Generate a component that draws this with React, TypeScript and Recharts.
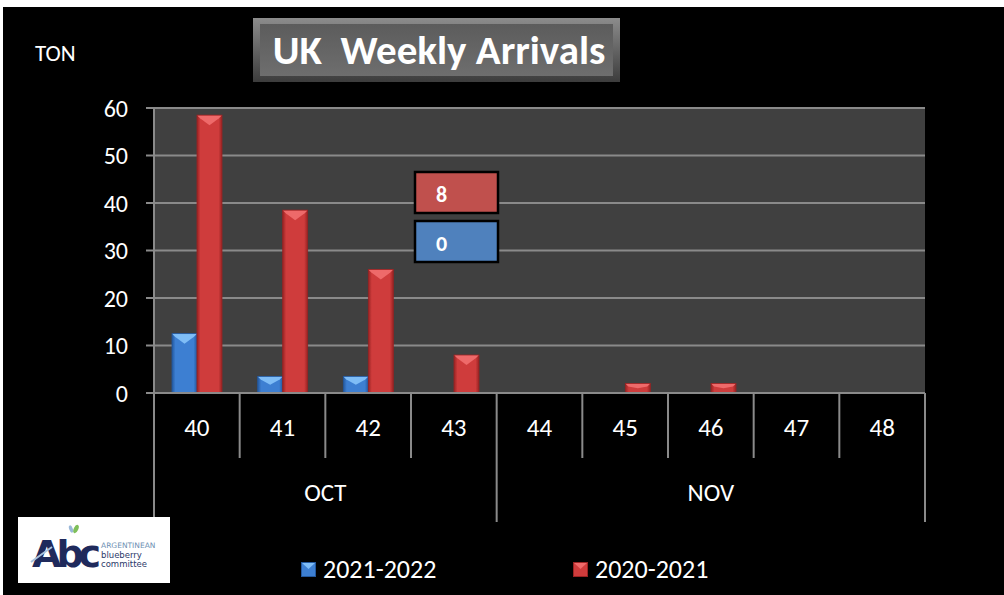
import React from 'react';
import { BarChart, Bar, XAxis, YAxis, CartesianGrid, LabelList } from 'recharts';

const weeks = ['40', '41', '42', '43', '44', '45', '46', '47', '48'];
const months = ['OCT', 'OCT', 'OCT', 'OCT', 'NOV', 'NOV', 'NOV', 'NOV', 'NOV'];
const season2122: (number | null)[] = [12.5, 3.5, 3.5, 0, null, null, null, null, null];
const season2021: (number | null)[] = [58.5, 38.5, 26, 8, 0, 2, 2, 0, 0];
const yTicks = [0, 10, 20, 30, 40, 50, 60];
const seriesNames = ['2021-2022', '2020-2021'];
const titleText = 'UK  Weekly Arrivals';
const unitText = 'TON';
const labelWeekIndex = 3;

const data = weeks.map((w, i) => ({ week: w, month: months[i], a: season2122[i], b: season2021[i] }));

const FONT = "Carlito, Lato, 'Open Sans', sans-serif";
const GRAY = '#8a8a8a';

const palettes = {
  blue: { base: '#3d7fd2', dark: '#23589e', light: '#7fbdf6', box: '#4f81bd' },
  red: { base: '#cf3c3c', dark: '#992323', light: '#ee6a6a', box: '#c0504d' },
};

const makeShape = (key: 'blue' | 'red') => (props: any) => {
  const { x, y, width, height } = props;
  if (!height || height <= 0 || !width) return null;
  const d = Math.min(10, height * 0.5);
  const p = palettes[key];
  return (
    <g>
      <rect x={x} y={y} width={width} height={height} fill={`url(#grad-${key})`} />
      <polygon points={`${x},${y} ${x + width},${y} ${x + width - 3},${y + 3} ${x + width / 2},${y + d} ${x + 3},${y + 3}`} fill={p.light} />
      <rect x={x} y={y} width={width} height={height} fill="none" stroke={p.dark} strokeWidth={0.8} />
    </g>
  );
};

const makeLabel = (key: 'blue' | 'red', boxTopFromBase: number) => (props: any) => {
  const { x, y, width, height, value, index } = props;
  if (index !== labelWeekIndex) return null;
  const base = (y ?? 0) + (height ?? 0);
  const center = key === 'blue' ? x + width : x;
  const left = center - 39;
  const top = base - boxTopFromBase;
  return (
    <g>
      <rect x={left} y={top} width={83} height={41} fill={palettes[key].box} stroke="#000" strokeWidth={2.5} />
      <text x={left + 21} y={top + 22} dominantBaseline="central" fill="#fff" fontWeight={700} fontSize={22} fontFamily={FONT}>
        {value}
      </text>
    </g>
  );
};

const WeekTick = (props: any) => {
  const { x, y, payload } = props;
  const i: number = payload.index;
  const half: number = payload.offset ?? 42.8;
  const left = x - half;
  const right = x + half;
  const isStart = i === 0 || months[i] !== months[i - 1];
  let monthLabel = null;
  if (isStart) {
    let n = 0;
    while (i + n < months.length && months[i + n] === months[i]) n++;
    monthLabel = (
      <text x={left + n * half} y={y + 99} textAnchor="middle" dominantBaseline="central" fill="#fff" fontSize={25} fontFamily={FONT}>
        {months[i]}
      </text>
    );
  }
  return (
    <g>
      <line x1={left} x2={left} y1={y} y2={y + (isStart ? 129 : 65)} stroke={GRAY} strokeWidth={2} />
      {i === weeks.length - 1 && <line x1={right} x2={right} y1={y} y2={y + 129} stroke={GRAY} strokeWidth={2} />}
      <text x={x} y={y + 34} textAnchor="middle" dominantBaseline="central" fill="#fff" fontSize={25} fontFamily={FONT}>
        {payload.value}
      </text>
      {monthLabel}
    </g>
  );
};

const LegendIcon = ({ k }: { k: 'blue' | 'red' }) => {
  const p = palettes[k];
  return (
    <svg width={15} height={15} style={{ display: 'block' }}>
      <rect x={0} y={0} width={15} height={15} fill={p.base} />
      <polygon points="0,0 15,0 7.5,7" fill={p.light} />
      <rect x={0.5} y={0.5} width={14} height={14} fill="none" stroke={p.dark} />
    </svg>
  );
};

export default function App() {
  return (
    <div style={{ position: 'relative', width: 1004, height: 595, background: '#fff', overflow: 'hidden', fontFamily: FONT }}>
      <style>{'body{margin:0;}'}</style>
      <div style={{ position: 'absolute', left: 3, top: 7, width: 1001, height: 588, background: '#000' }} />
      <div style={{ position: 'absolute', left: 0, top: 0 }}>
        <BarChart
          width={1004}
          height={595}
          data={data}
          margin={{ top: 108, right: 79, bottom: 72, left: 94 }}
          barSize={25}
          barGap={0}
          style={{ fontFamily: FONT }}
        >
          <defs>
            {(['blue', 'red'] as const).map((k) => (
              <linearGradient key={k} id={`grad-${k}`} x1="0" y1="0" x2="1" y2="0">
                <stop offset="0%" stopColor={palettes[k].dark} />
                <stop offset="14%" stopColor={palettes[k].base} />
                <stop offset="86%" stopColor={palettes[k].base} />
                <stop offset="100%" stopColor={palettes[k].dark} />
              </linearGradient>
            ))}
          </defs>
          <CartesianGrid vertical={false} fill="#404040" stroke={GRAY} strokeWidth={2} fillOpacity={1} />
          <XAxis
            dataKey="week"
            height={130}
            interval={0}
            tickLine={false}
            tickSize={0}
            tickMargin={0}
            axisLine={{ stroke: GRAY, strokeWidth: 2 }}
            tick={<WeekTick />}
          />
          <YAxis
            width={60}
            domain={[0, 60]}
            ticks={yTicks}
            interval={0}
            tickSize={8}
            tickMargin={18}
            axisLine={{ stroke: GRAY, strokeWidth: 2 }}
            tickLine={{ stroke: GRAY, strokeWidth: 2 }}
            tick={{ fill: '#fff', fontSize: 24, fontFamily: FONT }}
          />
          <Bar dataKey="a" name={seriesNames[0]} isAnimationActive={false} shape={makeShape('blue')}>
            <LabelList dataKey="a" content={makeLabel('blue', 172)} />
          </Bar>
          <Bar dataKey="b" name={seriesNames[1]} isAnimationActive={false} shape={makeShape('red')}>
            <LabelList dataKey="b" content={makeLabel('red', 221)} />
          </Bar>
        </BarChart>
      </div>

      {/* unit */}
      <div style={{ position: 'absolute', left: 35, top: 39, color: '#fff', fontSize: 23, lineHeight: '28px' }}>{unitText}</div>

      {/* title */}
      <svg style={{ position: 'absolute', left: 250, top: 15 }} width={374} height={72}>
        <defs>
          <linearGradient id="tOuter" x1="0" y1="0" x2="0" y2="1">
            <stop offset="0%" stopColor="#8c8c8c" />
            <stop offset="100%" stopColor="#3c3c3c" />
          </linearGradient>
          <linearGradient id="tInner" x1="0" y1="0" x2="0" y2="1">
            <stop offset="0%" stopColor="#5c5c5c" />
            <stop offset="100%" stopColor="#6e6e6e" />
          </linearGradient>
        </defs>
        <rect x={3} y={3} width={367} height={64} fill="url(#tOuter)" />
        <rect x={10} y={9} width={353} height={52} fill="url(#tInner)" />
        <text x={189} y={49} textAnchor="middle" fill="#fff" fontWeight={700} fontSize={41} fontFamily={FONT} style={{ whiteSpace: 'pre' }}>
          {titleText}
        </text>
      </svg>

      {/* logo */}
      <svg style={{ position: 'absolute', left: 18, top: 517 }} width={152} height={66}>
        <rect x={0} y={0} width={152} height={66} fill="#fff" />
        <text x={14} y={50} fill="#1f2a5c" fontWeight={900} fontSize={38} fontFamily="'DejaVu Sans', sans-serif" letterSpacing={-5}>Abc</text>
        <path d="M13 45 Q24 37 34 30" stroke="#a9c3dd" strokeWidth={2} fill="none" />
        <ellipse cx={58} cy={12} rx={2.2} ry={4.5} fill="#7fbf5a" transform="rotate(25 58 12)" />
        <ellipse cx={53} cy={12} rx={1.8} ry={3.8} fill="#9bb8d8" transform="rotate(-20 53 12)" />
        <text x={83} y={31} fill="#6d8fb3" fontSize={7.5} fontFamily="'DejaVu Sans', sans-serif">ARGENTINEAN</text>
        <text x={83} y={41} fill="#2c3a6a" fontSize={8.5} fontFamily="'DejaVu Sans', sans-serif">blueberry</text>
        <text x={83} y={50} fill="#2c3a6a" fontSize={8.5} fontFamily="'DejaVu Sans', sans-serif">committee</text>
      </svg>

      {/* legend */}
      <div style={{ position: 'absolute', left: 301, top: 553, display: 'flex', alignItems: 'center', color: '#fff', fontSize: 26 }}>
        <LegendIcon k="blue" />
        <span style={{ marginLeft: 7 }}>{seriesNames[0]}</span>
      </div>
      <div style={{ position: 'absolute', left: 573, top: 553, display: 'flex', alignItems: 'center', color: '#fff', fontSize: 26 }}>
        <LegendIcon k="red" />
        <span style={{ marginLeft: 7 }}>{seriesNames[1]}</span>
      </div>
    </div>
  );
}
